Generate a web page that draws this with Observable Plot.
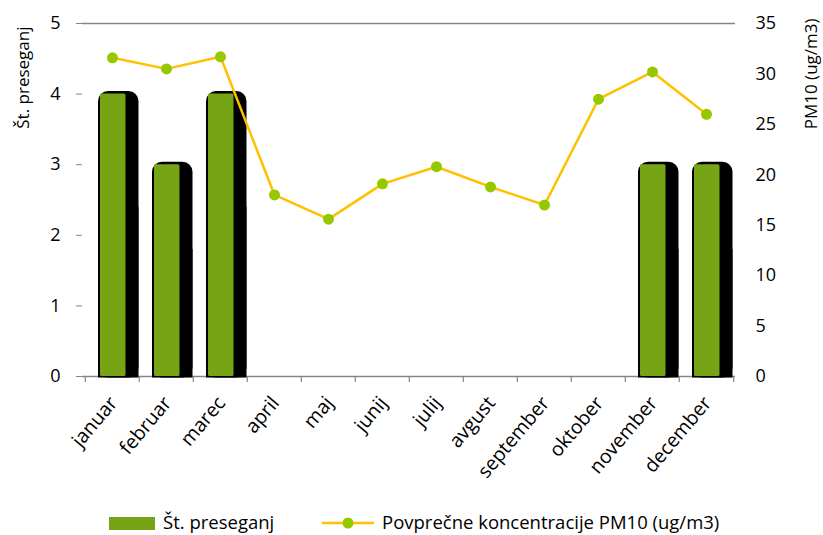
<!DOCTYPE html>
<html>
<head>
<meta charset="utf-8">
<script src="https://cdn.jsdelivr.net/npm/d3@7"></script>
<script src="https://cdn.jsdelivr.net/npm/@observablehq/plot@0.6"></script>
<style>
  body { margin: 0; background: #fff; font-family: "Open Sans", sans-serif; }
  #chart { width: 823px; }
  .legend { position: relative; width: 823px; height: 35px; font-size: 18.5px; color: #000; }
  .legend .sw { position: absolute; }
  .legend span { position: absolute; white-space: nowrap; line-height: 1; }
</style>
</head>
<body>
<div id="chart"></div>
<script>
const months = ["januar","februar","marec","april","maj","junij","julij","avgust","september","oktober","november","december"];
const exceedances = [4, 3, 4, null, null, null, null, null, null, null, 3, 3];
const pm10 = [31.6, 30.5, 31.7, 18.0, 15.6, 19.1, 20.8, 18.8, 17.0, 27.5, 30.2, 26.0];
const leftTicks = [0, 1, 2, 3, 4, 5];
const rightTicks = [0, 5, 10, 15, 20, 25, 30, 35];
const leftLabel = "Št. preseganj";
const rightLabel = "PM10 (ug/m3)";
const seriesBars = "Št. preseganj";
const seriesLine = "Povprečne koncentracije PM10 (ug/m3)";

const leftMax = 5, rightMax = 35;
const k = leftMax / rightMax; // map right axis into left scale

const rows = months.map((m, i) => ({month: m, n: exceedances[i], pm: pm10[i]}));
const barRows = rows.filter(d => d.n != null);

const W = 823, H = 500, mL = 82, mR = 88, mT = 23, mB = 124;
const band = (W - mL - mR) / months.length;
const grey = "#868686";
const green = "#77a414";
const lineCol = "#ffc000";
const dotCol = "#96c800";

const chart = Plot.plot({
  width: W, height: H,
  marginLeft: mL, marginRight: mR, marginTop: mT, marginBottom: mB,
  style: {fontFamily: "Open Sans, sans-serif", fontSize: "17px", color: "#000", background: "#fff"},
  x: {type: "band", domain: months, padding: 0, axis: null},
  y: {domain: [0, leftMax], axis: null},
  marks: [
    Plot.ruleY([leftMax], {stroke: grey, strokeWidth: 1.5}),
    Plot.ruleY([0], {stroke: grey, strokeWidth: 1.5}),
    Plot.ruleX(months, {x: d => d, y1: 0, y2: 0, insetBottom: -6, dx: -band / 2, stroke: grey, strokeWidth: 1.2}),
    Plot.ruleX(months.slice(-1), {x: d => d, y1: 0, y2: 0, insetBottom: -6, dx: band / 2, stroke: grey, strokeWidth: 1.2}),
    // black shadow/outline, rounded top
    Plot.rectY(barRows, {x: "month", y1: 0, y2: "n", fill: "#000", insetLeft: 13, insetRight: 0.5, insetTop: -2.5, insetBottom: -1.5, rx: 10}),
    Plot.rectY(barRows, {x: "month", y1: 0, y2: d => d.n * 0.6, fill: "#000", insetLeft: 13, insetRight: 0.5, insetBottom: -1.5}),
    // green body
    Plot.rectY(barRows, {x: "month", y1: 0, y2: "n", fill: green, insetLeft: 15, insetRight: 13.5, rx: 1.5}),
    // PM10 line on right axis (mapped)
    Plot.line(rows, {x: "month", y: d => d.pm * k, stroke: lineCol, strokeWidth: 2.5}),
    Plot.dot(rows, {x: "month", y: d => d.pm * k, r: 5.5, fill: dotCol, stroke: null}),
    // axes
    Plot.axisY(leftTicks, {anchor: "left", tickSize: 6, tickPadding: 16, stroke: grey, fill: "#000", fontSize: 18, tickFormat: d => String(d), label: null}),
    Plot.axisY(rightTicks.map(v => v * k), {anchor: "right", tickSize: 0, tickPadding: 20, tickFormat: d => String(Math.round(d / k)), fill: "#000", fontSize: 18, label: null}),
    Plot.axisX({tickSize: 0, tickPadding: 10, tickRotate: -50, dx: 1, dy: 13, fill: "#000", fontSize: 19.5, label: null}),
    Plot.text([leftLabel], {frameAnchor: "top-left", rotate: -90, textAnchor: "end", dx: -66, dy: 3, fill: "#000", fontSize: 17}),
    Plot.text([rightLabel], {frameAnchor: "top-right", rotate: -90, textAnchor: "end", dx: 69, dy: -5, fill: "#000", fontSize: 17})
  ]
});
document.getElementById("chart").appendChild(chart);

// legend
const leg = document.createElement("div");
leg.className = "legend";
leg.innerHTML = `
  <div class="sw" style="left:109px;top:17px;width:46px;height:13px;background:${green}"></div>
  <span style="left:163px;top:13px">${seriesBars}</span>
  <svg class="sw" style="left:320px;top:12px" width="56" height="22">
    <line x1="2" x2="54" y1="11" y2="11" stroke="${lineCol}" stroke-width="2.5"/>
    <circle cx="28" cy="11" r="5.5" fill="${dotCol}"/>
  </svg>
  <span style="left:382px;top:13px">${seriesLine}</span>`;
document.body.appendChild(leg);
</script>
</body>
</html>
